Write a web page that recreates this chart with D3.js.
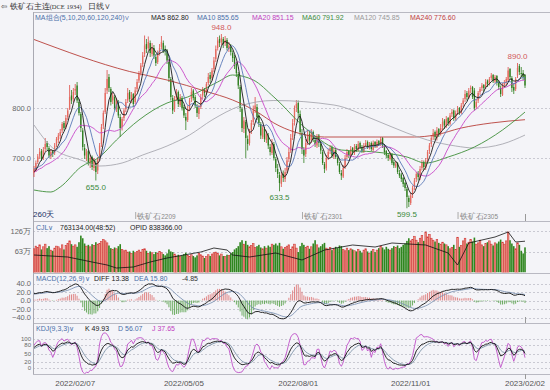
<!DOCTYPE html>
<html>
<head>
<meta charset="utf-8">
<title>铁矿石主连 日线</title>
<script src="https://cdnjs.cloudflare.com/ajax/libs/d3/7.8.5/d3.min.js"></script>
<style>
  body { margin: 0; background: #f4f4f8; }
  svg text { font-family: "Liberation Sans", Arial, sans-serif; }
</style>
</head>
<body>
<svg id="chart" width="550" height="390"></svg>
<script>

// daily bars, 2021/12/29 .. 2023/02/02
var opens = [
  670,676,692,705,714,700,718,730,720,703, 714,710,726,736,744,755,770,762,782,800,
  825,818,835,845,812,788,755,720,700,714, 688,702,680,690,675,700,728,765,792,835,
  862,838,815,822,798,812,782,762,780,798, 815,832,816,828,812,838,855,870,888,908,
  928,920,930,908,920,902,892,910,922,930, 918,915,892,858,820,798,820,832,806,820,
  802,782,776,800,818,835,822,802,788,802, 825,836,832,850,866,860,878,898,920,938,
  932,938,930,936,918,922,910,902,888,868, 842,798,758,772,738,730,755,772,798,802,
  785,768,742,758,736,745,722,710,728,698, 678,666,648,668,658,675,698,715,742,772,
  800,810,788,750,716,708,732,748,736,752, 736,725,745,728,712,688,680,702,714,722,
  703,716,700,688,670,663,682,702,714,705, 720,710,724,716,730,720,713,726,732,720,
  730,716,732,722,734,726,740,724,714,706, 698,708,692,683,690,670,667,660,650,638,
  620,610,628,642,658,670,660,680,692,680, 698,714,728,742,752,740,758,750,762,775,
  763,780,768,788,795,778,792,800,790,808, 818,830,820,838,842,835,802,815,832,840,
  846,842,855,850,860,866,853,864,852,840, 826,846,852,856,878,860,842,838,865,884,
  870,870,866
];
var highs = [
  684,695,708,720,718,722,740,734,724,718, 716,730,742,750,758,772,774,786,800,846,
  836,840,848,852,818,792,760,728,718,716, 706,705,700,695,702,730,768,795,840,876,
  868,842,830,826,820,816,788,782,800,818, 840,836,832,830,842,858,874,890,912,945,
  938,943,935,930,926,908,915,928,944,935, 925,918,898,862,826,824,838,835,828,824,
  806,790,805,820,840,838,826,808,806,828, 842,840,852,870,872,880,902,925,942,945,
  948,942,944,940,932,928,915,906,892,872, 846,802,782,776,745,758,776,805,822,808,
  790,772,766,762,755,750,728,738,732,702, 688,672,672,675,680,702,720,748,778,805,
  816,815,795,758,722,738,756,752,758,755, 742,748,748,734,716,692,706,718,726,725,
  720,720,705,692,676,686,706,718,716,724, 722,728,728,734,733,726,730,736,735,732,
  733,735,734,737,736,742,742,728,716,710, 712,710,696,694,692,676,670,662,652,642,
  625,630,645,660,672,674,684,696,695,700, 716,730,746,758,755,762,760,768,780,778,
  784,782,790,798,797,795,804,802,810,820, 836,834,840,845,844,840,818,834,842,850,
  848,858,857,862,870,868,866,866,855,845, 850,856,862,882,880,864,848,862,890,888,
  882,876,868
];
var lows = [
  662,672,688,698,694,696,712,716,700,698, 702,706,722,730,738,750,755,758,776,796,
  808,812,826,810,785,752,715,698,694,685, 680,676,674,655,668,695,722,758,788,828,
  832,805,808,795,792,780,742,755,774,792, 810,812,810,802,808,832,850,865,882,902,
  910,915,902,903,898,884,888,905,918,910, 905,888,852,815,788,792,815,802,802,795,
  780,756,772,795,812,815,800,782,778,798, 818,822,826,845,850,855,872,892,915,922,
  926,920,924,915,912,905,892,878,862,838, 792,752,750,700,715,725,748,766,790,776,
  762,738,738,732,730,718,705,706,695,672, 660,633.5,642,652,652,670,692,710,736,765,
  792,782,745,708,690,702,726,728,730,732, 722,720,722,708,686,670,675,696,708,700,
  698,698,685,668,656,660,678,698,700,702, 706,706,712,713,718,710,710,722,718,717,
  714,713,720,720,724,724,720,706,700,694, 695,686,680,680,668,660,652,642,634,599.5,
  602,606,620,636,652,655,656,675,676,676, 692,708,722,736,736,735,742,745,756,758,
  760,764,765,782,774,775,786,786,788,802, 812,815,818,830,818,795,798,810,826,834,
  832,838,842,845,855,850,850,845,836,822, 824,840,846,852,858,832,828,834,860,866,
  862,856,840
];
var closes = [
  678,690,703,712,698,716,728,722,705,712, 708,725,738,745,752,768,760,780,795,822,
  815,832,838,815,790,760,722,705,712,690, 700,682,695,672,698,725,762,790,830,858,
  840,812,825,800,815,785,760,778,795,812, 830,818,826,808,835,852,868,885,905,925,
  918,932,910,922,905,890,908,920,932,915, 912,895,860,822,795,818,830,808,822,800,
  785,775,798,815,832,820,805,790,800,822, 838,830,848,862,858,875,895,918,935,930,
  940,928,935,920,925,912,900,885,870,845, 800,760,775,740,728,752,770,795,805,782,
  770,745,760,738,748,725,712,730,700,680, 668,650,665,660,672,695,712,740,770,798,
  808,790,752,718,705,730,745,735,750,738, 728,742,730,715,690,678,700,712,720,705,
  715,702,690,672,665,680,700,712,706,718, 712,722,718,728,722,715,725,730,722,728,
  718,730,724,732,728,738,725,712,705,700, 706,690,685,688,672,665,658,648,640,622,
  612,625,640,655,668,662,678,690,682,695, 712,725,740,750,742,755,748,760,772,765,
  778,770,785,792,780,790,798,792,805,815, 828,822,835,840,822,800,812,830,838,845,
  840,852,848,858,865,855,862,850,842,828, 845,850,858,875,862,840,835,858,880,872,
  868,862,845
];
// closes before the first visible bar, only used to start MA5/10/20
var preCloses = [650,655,662,668,660,672,680,676,668,662,672,684,690,680,686,676,668,670,672];

// volume (万手)
var volumes = [
  72,80,76,84,70,78,86,74,80,68, 66,74,80,78,72,84,70,82,88,96,
  86,80,84,78,92,112,104,88,80,84, 78,86,82,92,86,88,94,100,96,90,
  82,74,70,76,72,80,86,70,66,68, 62,64,58,66,60,64,68,62,70,72,
  66,58,64,60,56,62,58,64,60,56, 52,58,70,64,62,56,50,54,48,52,
  56,60,52,48,54,50,46,52,58,54, 50,44,48,54,50,56,60,62,58,52,
  56,50,48,54,52,58,62,70,74,80, 92,98,86,96,84,78,82,88,76,80,
  84,76,72,80,74,82,78,86,84,88, 82,90,78,72,76,80,84,70,78,86,
  74,62,80,90,84,76,80,72,78,88, 98,84,76,80,86,90,74,70,76,68,
  72,78,74,82,80,70,66,74,68,72, 70,66,64,70,66,60,68,72,64,58,
  66,70,62,68,74,80,76,70,78,72, 68,74,80,76,82,74,78,84,88,96,
  104,96,100,110,98,92,104,112,96,123, 108,116,104,98,94,100,90,86,92,88,
  84,80,72,76,84,70,107,78,82,96, 104,88,92,100,94,106,86,90,98,84,
  80,88,92,96,86,82,90,88,94,100, 92,86,96,123,98,88,80,72,90,84,
  66,58,76.3
];
// open interest (万手), [bar index, value]
var oiPoints = [[0,70],[18,68],[31,63],[39,60],[44,57],[53,58],[62,63],[71,67],[80,70],[89,73],
  [96,77],[103,75],[106,70],[115,68],[129,72],[143,65],[155,75],[170,80],[182,78],[191,82],
  [209,80],[221,72],[226,60],[232,82],[239,85],[246,88],[253,93],[257,83],[262,83.8]];

// long moving averages, [bar index, value]
var ma60Pts = [[0,636],[9,632],[14,642],[25,682],[35,702],[44,736],[56,776],[71,810],[82,822],[98,852],
  [106,866],[117,856],[128,822],[146,756],[164,716],[182,712],[199,702],[209,690],[221,702],[235,722],
  [250,756],[262,791.92]];
var ma120Pts = [[0,766],[10,720],[25,696],[35,684],[47,690],[58,706],[71,724],[83,746],[95,776],[110,804],
  [128,815],[160,806],[182,776],[199,750],[210,736],[225,724],[235,720],[250,728],[262,745.85]];
var ma240Pts = [[0,937],[51,873],[71,856],[92,833],[106,816],[120,790],[128,770],[139,752],[155,742],[182,742],
  [203,742],[214,746],[228,760],[244,770],[262,776.6]];

var macdSeed = { ema12: 672, ema26: 655, dea: 15 };
var kdjSeed = { k: 70, d: 65 };

var dateTicks = [22, 80, 141, 201, 262];
var dateLabels = ["2022/02/07", "2022/05/05", "2022/08/01", "2022/11/01", "2023/02/02"];
var rollIdx = [54, 143, 226];
var rollLabels = ["2209", "2301", "2305"];
var priceTicks = [800, 700];
var volTicks = [126, 63];
var macdTicks = [40, 20, 0, -20, -40];
var kdjTicks = [100, 80, 50, 20, 0];
var extremes = [[100, 948, "high"], [33, 655, "low"], [131, 633.5, "low"], [199, 599.5, "low"], [258, 890, "high"]];

var maLegend = [
  ["MA5 862.80", 151, "#222"], ["MA10 855.65", 197, "#4a6fa8"], ["MA20 851.15", 252, "#c040c0"],
  ["MA60 791.92", 302, "#3a8a3a"], ["MA120 745.85", 354, "#999"], ["MA240 776.60", 410, "#c04040"]
];

var RED = "#dd4b45", GREEN = "#2e7d1e", BLUE = "#4a6fa8";

// ---- indicators
var allCloses = preCloses.concat(closes);
function movingAvg(n) {
  return closes.map(function(c, i) {
    var j = i + preCloses.length;
    return d3.mean(allCloses.slice(j - n + 1, j + 1));
  });
}
var ma5 = movingAvg(5), ma10 = movingAvg(10), ma20 = movingAvg(20);

var diff = [], dea = [], hist = [];
var e12 = macdSeed.ema12, e26 = macdSeed.ema26, de = macdSeed.dea;
closes.forEach(function(c) {
  e12 = e12 * 11 / 13 + c * 2 / 13;
  e26 = e26 * 25 / 27 + c * 2 / 27;
  var df = e12 - e26;
  de = de * 0.8 + df * 0.2;
  diff.push(df); dea.push(de); hist.push(2 * (df - de));
});

var kk = [], dd = [], jj = [];
var K = kdjSeed.k, D = kdjSeed.d;
closes.forEach(function(c, i) {
  var s = Math.max(0, i - 8);
  var lo = d3.min(lows.slice(s, i + 1)), hi = d3.max(highs.slice(s, i + 1));
  var rsv = hi > lo ? (c - lo) / (hi - lo) * 100 : 50;
  K = K * 2 / 3 + rsv / 3;
  D = D * 2 / 3 + K / 3;
  kk.push(K); dd.push(D); jj.push(3 * K - 2 * D);
});

// ---- layout
var svg = d3.select("#chart");
var x = d3.scaleLinear().domain([0, closes.length - 1]).range([34, 525]);
var bw = 1.3;
var panels = { main: [12, 221], vol: [221, 272.5], macd: [273, 323], kdj: [323, 374] };

var yP = d3.scaleLinear().domain([700, 800]).range([158, 108]);
var yV = d3.scaleLinear().domain([0, 126]).range([272.5, 231]);
var yOI = d3.scaleLinear().domain([40, 100]).range([285, 225]);
var yM = d3.scaleLinear().domain([-40, 40]).range([317.5, 283.5]);
var yK = d3.scaleLinear().domain([0, 100]).range([368, 339]);

var defs = svg.append("defs");
Object.keys(panels).forEach(function(k) {
  defs.append("clipPath").attr("id", "clip-" + k).append("rect")
    .attr("x", 33).attr("y", panels[k][0] + 0.5).attr("width", 517).attr("height", panels[k][1] - panels[k][0] - 0.5);
});

svg.append("rect").attr("width", 550).attr("height", 390).attr("fill", "#f4f4f8");

function grid(vals, scale) {
  svg.append("g").selectAll("line").data(vals).join("line")
    .attr("x1", 33).attr("x2", 550)
    .attr("y1", function(d) { return Math.round(scale(d)) + 0.5; })
    .attr("y2", function(d) { return Math.round(scale(d)) + 0.5; })
    .attr("stroke", "#c9c9d2").attr("stroke-dasharray", "2,2");
}
function axisLabels(vals, scale, fmt, size) {
  svg.append("g").selectAll("text").data(vals).join("text")
    .attr("x", 31).attr("y", function(d) { return scale(d); }).attr("dy", "0.35em")
    .attr("text-anchor", "end").attr("font-size", size || 7.5).attr("fill", "#666")
    .text(fmt);
}
grid(priceTicks, yP); axisLabels(priceTicks, yP, d3.format(".1f"));
grid(volTicks, yV); axisLabels(volTicks, yV, function(d) { return d + "万"; });
grid(macdTicks, yM); axisLabels(macdTicks, yM, d3.format(".1f"));
grid(kdjTicks, yK); axisLabels(kdjTicks, yK, function(d) { return d; }, 6);

// frame lines
[12, 221, 272.5, 323, 374].forEach(function(y) {
  svg.append("line").attr("x1", 33).attr("x2", 550).attr("y1", Math.round(y) + 0.5).attr("y2", Math.round(y) + 0.5)
    .attr("stroke", "#b9b9c2");
});
svg.append("line").attr("x1", 33.5).attr("x2", 33.5).attr("y1", 12).attr("y2", 374).attr("stroke", "#a9a9b2");

// ---- main panel: candles
var gMain = svg.append("g").attr("clip-path", "url(#clip-main)");
var idx = d3.range(closes.length);
gMain.append("g").selectAll("line").data(idx).join("line")
  .attr("x1", function(i) { return x(i); }).attr("x2", function(i) { return x(i); })
  .attr("y1", function(i) { return yP(highs[i]); }).attr("y2", function(i) { return yP(lows[i]); })
  .attr("stroke", function(i) { return closes[i] >= opens[i] ? RED : GREEN; }).attr("stroke-width", 0.8);
gMain.append("g").selectAll("rect").data(idx).join("rect")
  .attr("x", function(i) { return x(i) - bw / 2; }).attr("width", bw)
  .attr("y", function(i) { return yP(Math.max(opens[i], closes[i])); })
  .attr("height", function(i) { return Math.max(0.8, Math.abs(yP(opens[i]) - yP(closes[i]))); })
  .attr("fill", function(i) { return closes[i] >= opens[i] ? "#e66a5e" : GREEN; });

var lineIdx = d3.line().x(function(d, i) { return x(i); });
var linePts = d3.line().x(function(d) { return x(d[0]); }).curve(d3.curveMonotoneX);
function drawMA(data, color, sparse) {
  gMain.append("path").datum(data)
    .attr("d", sparse ? linePts.y(function(d) { return yP(d[1]); })(data) : lineIdx.y(function(d) { return yP(d); })(data))
    .attr("fill", "none").attr("stroke", color).attr("stroke-width", 0.9);
}
drawMA(ma240Pts, "#b8403a", true);
drawMA(ma120Pts, "#a8a8b0", true);
drawMA(ma60Pts, "#3f8f3a", true);
drawMA(ma20, "#c848c8", false);
drawMA(ma10, "#5a78b8", false);
drawMA(ma5, "#1a1a1a", false);

// extreme labels
svg.append("g").selectAll("text").data(extremes).join("text")
  .attr("x", function(d) { return x(d[0]); })
  .attr("y", function(d) { return d[2] === "high" ? yP(d[1]) - 4 : yP(d[1]) + 9; })
  .attr("text-anchor", "middle").attr("font-size", 8)
  .attr("fill", function(d) { return d[2] === "high" ? "#d25a5a" : "#3a8a3a"; })
  .text(function(d) { return d3.format(".1f")(d[1]); });

// contract roll marks
var gRoll = svg.append("g");
rollIdx.forEach(function(r, k) {
  gRoll.append("line").attr("x1", x(r) + 0.5).attr("x2", x(r) + 0.5).attr("y1", 212).attr("y2", 219).attr("stroke", "#aaa");
  var t = gRoll.append("text").attr("x", x(r) + 2).attr("y", 219).attr("fill", "#888").attr("font-size", 7.5);
  t.append("tspan").text("铁矿石");
  t.append("tspan").attr("font-size", 6.5).text(rollLabels[k]);
});
svg.append("text").attr("x", 33).attr("y", 217).attr("font-size", 8).attr("fill", "#223366").text("260天");

// last-bar ticks
[[214, 221], [317, 323], [374, 379]].forEach(function(p) {
  svg.append("line").attr("x1", x(closes.length - 1) + 0.5).attr("x2", x(closes.length - 1) + 0.5)
    .attr("y1", p[0]).attr("y2", p[1]).attr("stroke", "#999");
});

// ---- volume panel
var gVol = svg.append("g").attr("clip-path", "url(#clip-vol)");
gVol.append("g").selectAll("rect").data(idx).join("rect")
  .attr("x", function(i) { return x(i) - 0.8; }).attr("width", 1.6)
  .attr("y", function(i) { return yV(volumes[i]); })
  .attr("height", function(i) { return yV(0) - yV(volumes[i]); })
  .attr("fill", function(i) { return closes[i] >= opens[i] ? "#ec9686" : "#2f861e"; })
  .attr("stroke", function(i) { return closes[i] >= opens[i] ? "#d23a3a" : "none"; })
  .attr("stroke-width", 0.6);
gVol.append("path").datum(oiPoints)
  .attr("d", d3.line().x(function(d) { return x(d[0]); }).y(function(d) { return yOI(d[1]); }))
  .attr("fill", "none").attr("stroke", "#111").attr("stroke-width", 0.8);

// ---- MACD panel
var gMacd = svg.append("g").attr("clip-path", "url(#clip-macd)");
gMacd.append("g").selectAll("line").data(idx).join("line")
  .attr("x1", function(i) { return x(i); }).attr("x2", function(i) { return x(i); })
  .attr("y1", yM(0)).attr("y2", function(i) { return yM(hist[i]); })
  .attr("stroke", function(i) { return hist[i] >= 0 ? "#de7a7a" : "#5fa552"; }).attr("stroke-width", 0.9);
gMacd.append("path").datum(dea).attr("d", lineIdx.y(function(d) { return yM(d); }))
  .attr("fill", "none").attr("stroke", "#7d93b3").attr("stroke-width", 0.9);
gMacd.append("path").datum(diff).attr("d", lineIdx.y(function(d) { return yM(d); }))
  .attr("fill", "none").attr("stroke", "#111").attr("stroke-width", 0.9);

// ---- KDJ panel
var gKdj = svg.append("g").attr("clip-path", "url(#clip-kdj)");
[[jj, "#c050c8"], [dd, "#7d93a8"], [kk, "#111"]].forEach(function(s) {
  gKdj.append("path").datum(s[0]).attr("d", lineIdx.y(function(d) { return yK(d); }))
    .attr("fill", "none").attr("stroke", s[1]).attr("stroke-width", 0.9);
});

// ---- dates
svg.append("g").selectAll("text").data(dateTicks).join("text")
  .attr("x", function(d) { return x(d); }).attr("y", 386)
  .attr("text-anchor", "middle").attr("font-size", 8).attr("fill", "#555")
  .text(function(d, k) { return dateLabels[k]; });

// ---- headers
var title = svg.append("text").attr("x", 1).attr("y", 9).attr("font-size", 7.5).attr("fill", "#333");
title.append("tspan").attr("font-family", "DejaVu Sans").text("⇦ ");
title.append("tspan").text("铁矿石主连");
title.append("tspan").attr("font-size", 6.5).attr("font-family", "Liberation Serif").text("(DCE 1934)");
title.append("tspan").attr("dx", 6).text("日线∨");

svg.append("text").attr("x", 35).attr("y", 20).attr("font-size", 7).attr("fill", BLUE).text("MA组合(5,10,20,60,120,240)∨");
svg.append("g").selectAll("text").data(maLegend).join("text")
  .attr("x", function(d) { return d[1]; }).attr("y", 20).attr("font-size", 7)
  .attr("fill", function(d) { return d[2]; }).text(function(d) { return d[0]; });

function header(y, items) {
  svg.append("g").selectAll("text").data(items).join("text")
    .attr("x", function(d) { return d[1]; }).attr("y", y).attr("font-size", 7)
    .attr("fill", function(d) { return d[2]; }).text(function(d) { return d[0]; });
}
header(229.5, [["CJL∨", 36, BLUE], ["763134.00(48:52)", 60, "#222"], ["OPID 838366.00", 130, "#222"]]);
header(280.5, [["MACD(12,26,9)∨", 36, BLUE], ["DIFF 13.38", 94, "#222"], ["DEA 15.80", 134, BLUE], ["-4.85", 182, "#333"]]);
header(330.5, [["KDJ(9,3,3)∨", 36, BLUE], ["K 49.93", 85, "#222"], ["D 56.07", 118, BLUE], ["J 37.65", 152, "#c040c0"]]);

</script>
</body>
</html>
